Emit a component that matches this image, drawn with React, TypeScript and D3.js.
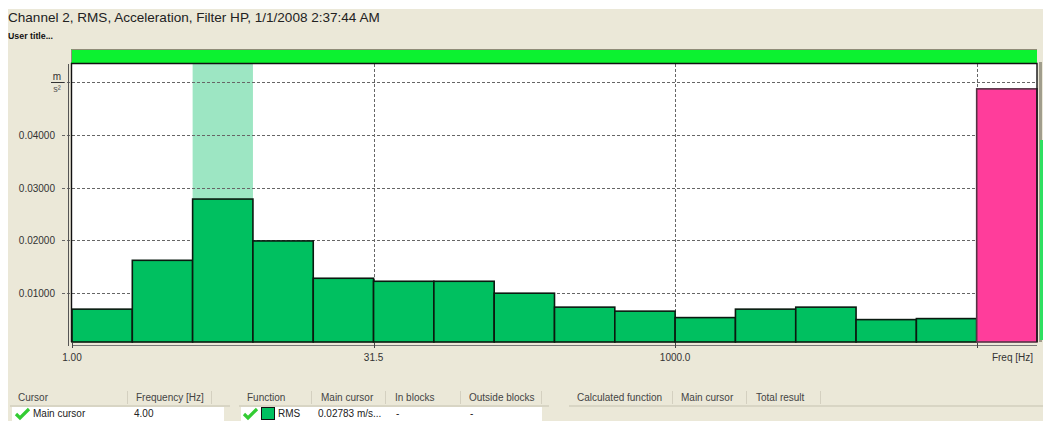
import React, { useRef, useEffect } from "react";
import * as d3 from "d3";

const freqBins = ["1.00","2.00","4.00","8.00","16.0","31.5","63.0","125.0","250.0","500.0","1000.0","2000.0","4000.0","8000.0","16000.0","31500.0"];
const rmsValues = [0.00698,0.01623,0.02783,0.0199,0.01283,0.01226,0.01226,0.0100,0.00736,0.0066,0.00538,0.00698,0.00736,0.005,0.00519,0.0487];
const yTicks = [0.01,0.02,0.03,0.04,0.05];
const yLabelled = [0.01,0.02,0.03,0.04];
const xTicks = ["1.00","31.5","1000.0","31500.0"];
const xLabelled = ["1.00","31.5","1000.0"];
const cursorBin = "4.00";
const alarmBin = "31500.0";
const cursorHeaders = [["Cursor",18],["Frequency [Hz]",136]] as const;
const functionHeaders = [["Function",247],["Main cursor",321],["In blocks",395],["Outside blocks",469]] as const;
const calcHeaders = [["Calculated function",577],["Main cursor",681],["Total result",756]] as const;
const headerSeps = [127,211,311,385,460,541,672,746,820];

const W = 1043, H = 421;
const FONT = "'Liberation Sans', Arial, sans-serif";

export default function App() {
  const ref = useRef<SVGSVGElement>(null);
  useEffect(() => {
    const svg = d3.select(ref.current!);
    svg.selectAll("*").remove();
    const L = 72, R = 1037, T = 64, B = 342;
    const x = d3.scaleBand<string>().domain(freqBins).range([L, R]);
    const y = d3.scaleLinear().domain([0, 0.05]).range([346, 82]);
    const text = (t: string, px: number, py: number, size = 10, anchor = "start", fill = "#333", weight = "normal") =>
      svg.append("text").attr("x", px).attr("y", py).attr("font-size", size).attr("font-family", FONT)
        .attr("text-anchor", anchor).attr("fill", fill).attr("font-weight", weight).text(t);

    svg.append("rect").attr("width", W).attr("height", H).attr("fill", "#fff");
    svg.append("rect").attr("x", 8).attr("y", 9).attr("width", W - 8).attr("height", H - 9).attr("fill", "#ebe8d8");

    text("Channel 2, RMS, Acceleration, Filter HP, 1/1/2008 2:37:44 AM", 8, 22, 13.55, "start", "#222");
    text("User title...", 8, 39, 8.8, "start", "#111", "bold");

    // status bar
    svg.append("rect").attr("x", 71).attr("y", 49).attr("width", 966).attr("height", 14).attr("fill", "#0cf230");
    svg.append("path").attr("d", "M71.5 62V49.5H1037").attr("fill", "none").attr("stroke", "#8f8c78");

    // plot
    svg.append("rect").attr("x", L).attr("y", T).attr("width", R - L).attr("height", B - T).attr("fill", "#fff");
    svg.append("rect").attr("x", x(cursorBin)!).attr("y", T).attr("width", x.bandwidth()).attr("height", B - T).attr("fill", "#9de6c3");

    const grid = svg.append("g").attr("stroke", "#666").attr("stroke-dasharray", "3 2").attr("stroke-width", 1);
    yTicks.forEach(v => {
      const py = Math.round(y(v)) + 0.5;
      grid.append("line").attr("x1", 62).attr("x2", R).attr("y1", py).attr("y2", py);
    });
    xTicks.slice(1).forEach(f => {
      const px = Math.round(x(f)!) + 0.5;
      grid.append("line").attr("x1", px).attr("x2", px).attr("y1", T).attr("y2", B);
    });

    svg.append("g").selectAll("rect").data(freqBins).join("rect")
      .attr("x", d => x(d)!)
      .attr("y", (_, i) => y(rmsValues[i]))
      .attr("width", x.bandwidth())
      .attr("height", (_, i) => B - y(rmsValues[i]))
      .attr("fill", d => d === alarmBin ? "#ff3d9b" : "#00c060")
      .attr("stroke", d => d === alarmBin ? "#553344" : "#0a1a10")
      .attr("stroke-width", 1.6);

    // frame and axes
    svg.append("path").attr("d", `M${L - 0.5} ${B}V${T - 0.5}H${R}V${B}`).attr("fill", "none").attr("stroke", "#111").attr("stroke-width", 1.4);
    svg.append("line").attr("x1", 68.5).attr("x2", 68.5).attr("y1", T).attr("y2", 346).attr("stroke", "#555");
    svg.append("line").attr("x1", L).attr("x2", R).attr("y1", 345.5).attr("y2", 345.5).attr("stroke", "#777");
    xTicks.forEach(f => {
      const px = Math.round(x(f)!) + 0.5;
      svg.append("line").attr("x1", px).attr("x2", px).attr("y1", 343).attr("y2", 348).attr("stroke", "#444");
    });

    yLabelled.forEach(v => text(d3.format(".5f")(v), 55, y(v) + 4, 10, "end"));
    xLabelled.forEach(f => text(f, x(f)!, 361, 10, "middle"));
    text("Freq [Hz]", 1033, 361, 10, "end");

    // y unit
    text("m", 57, 80, 10, "middle", "#333");
    svg.append("line").attr("x1", 51).attr("x2", 64).attr("y1", 82.5).attr("y2", 82.5).attr("stroke", "#333");
    text("s²", 57, 92, 9, "middle", "#555");

    // right edge
    svg.append("rect").attr("x", 1039).attr("y", 62).attr("width", 3).attr("height", 280).attr("fill", "#a09d8c");
    svg.append("rect").attr("x", 1040).attr("y", 140).attr("width", 3).attr("height", 200).attr("fill", "#2ee060");

    // table headers
    [...cursorHeaders, ...functionHeaders, ...calcHeaders].forEach(([t, px]) => text(t, px, 401, 10, "start", "#444"));
    headerSeps.forEach(px => svg.append("line").attr("x1", px + 0.5).attr("x2", px + 0.5).attr("y1", 391).attr("y2", 404).attr("stroke", "#d4d0c0"));
    [[10, 230], [239, 549], [569, 1043]].forEach(([a, b]) =>
      svg.append("rect").attr("x", a).attr("y", 405).attr("width", b - a).attr("height", 2).attr("fill", "#d8d5c4"));

    // table rows
    svg.append("rect").attr("x", 12).attr("y", 407).attr("width", 212).attr("height", 14).attr("fill", "#fff");
    svg.append("rect").attr("x", 241).attr("y", 407).attr("width", 301).attr("height", 14).attr("fill", "#fff");
    const check = (px: number) => svg.append("path").attr("d", `M${px} 414l4 4l9-9`).attr("fill", "none").attr("stroke", "#33cc33").attr("stroke-width", 3.2);
    check(16); check(244);
    text("Main cursor", 33, 417, 10, "start", "#222");
    text("4.00", 134, 417, 10, "start", "#222");
    svg.append("rect").attr("x", 261.5).attr("y", 407.5).attr("width", 13).attr("height", 12).attr("fill", "#00c060").attr("stroke", "#111");
    text("RMS", 278, 417, 10, "start", "#222");
    text("0.02783 m/s...", 318, 417, 10, "start", "#222");
    text("-", 396, 417, 10, "start", "#222");
    text("-", 470, 417, 10, "start", "#222");
  }, []);
  return <svg ref={ref} width={W} height={H} style={{ position: "absolute", left: 0, top: 0 }} />;
}
